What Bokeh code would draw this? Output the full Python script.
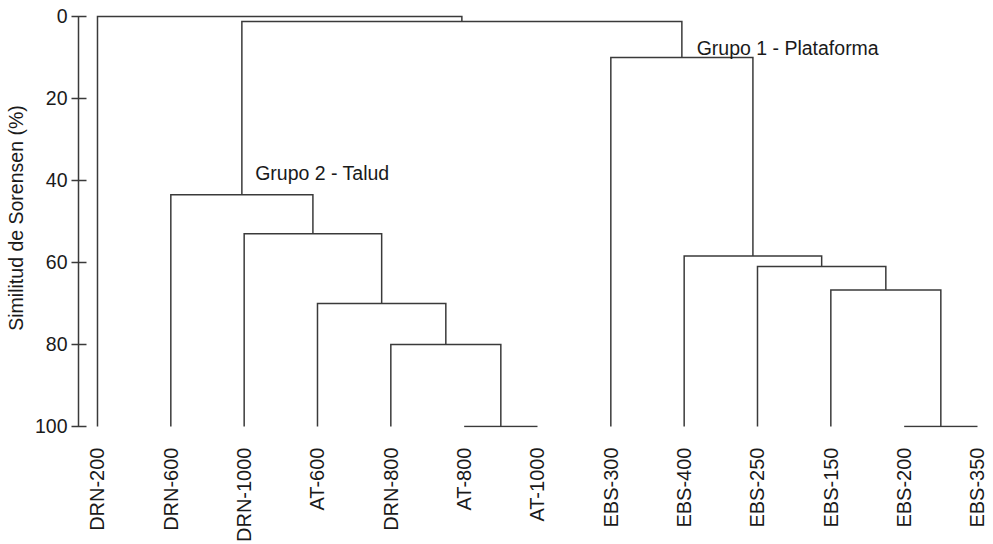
import math
from bokeh.plotting import figure
from bokeh.models import Range1d, FixedTicker, ColumnDataSource
from bokeh.core.properties import value
from bokeh.embed import file_html
from bokeh.resources import INLINE

# ---- data ----
leaves = ["DRN-200", "DRN-600", "DRN-1000", "AT-600", "DRN-800", "AT-800", "AT-1000",
          "EBS-300", "EBS-400", "EBS-250", "EBS-150", "EBS-200", "EBS-350"]
# linkage: node ids 0..12 are leaves, new nodes numbered from 13 in order
merge_left = [5, 4, 3, 2, 1, 11, 10, 9, 8, 7, 17, 0]
merge_right = [6, 13, 14, 15, 16, 12, 18, 19, 20, 21, 22, 23]
merge_height = [100, 80, 70, 53, 43.5, 100, 66.7, 61, 58.4, 10, 1.2, 0]
y_ticks = [0, 20, 40, 60, 80, 100]
group_labels = ["Grupo 2 - Talud", "Grupo 1 - Plataforma"]
group_x = [2.15, 8.17]
group_y = [38.2, 7.8]
leaf_height = 100

# ---- build dendrogram paths ----
pos = {i: float(i) for i in range(len(leaves))}
hgt = {i: float(leaf_height) for i in range(len(leaves))}
xs, ys = [], []
for k, (a, b, h) in enumerate(zip(merge_left, merge_right, merge_height)):
    node = len(leaves) + k
    xs.append([pos[a], pos[a], pos[b], pos[b]])
    ys.append([hgt[a], h, h, hgt[b]])
    pos[node] = (pos[a] + pos[b]) / 2
    hgt[node] = h

FONT = "Liberation Sans"
COL = "#3a3a3a"
TXT = "#1a1a1a"

p = figure(width=993, height=544, output_backend="svg", toolbar_location=None,
           x_range=Range1d(-0.259, 12.15), y_range=Range1d(100.25, -1.95),
           min_border_left=78, min_border_right=5, min_border_top=8, min_border_bottom=116)
p.outline_line_color = None
p.xgrid.visible = False
p.ygrid.visible = False

p.multi_line(xs=xs, ys=ys, line_color=COL, line_width=1.5, line_join="miter")

src = ColumnDataSource(dict(x=group_x, y=group_y, t=group_labels))
p.text(x="x", y="y", text="t", source=src, text_font=value(FONT), text_font_size="19.5px",
       text_color=TXT, text_align="left", text_baseline="alphabetic")

# y axis
ya = p.yaxis[0]
ya.ticker = FixedTicker(ticks=y_ticks)
ya.bounds = (0, 100)
ya.axis_line_color = COL
ya.axis_line_width = 1.5
ya.major_tick_line_color = COL
ya.major_tick_line_width = 1.5
ya.major_tick_in = 8
ya.major_tick_out = 7
ya.minor_tick_line_color = None
ya.major_label_text_font = FONT
ya.major_label_text_font_size = "19.5px"
ya.major_label_text_color = TXT
ya.major_label_standoff = 4
ya.axis_label = "Similitud de Sorensen (%)"
ya.axis_label_text_font = FONT
ya.axis_label_text_font_size = "19.5px"
ya.axis_label_text_font_style = "normal"
ya.axis_label_text_color = TXT
ya.axis_label_standoff = 5

# x axis
xa = p.xaxis[0]
xa.ticker = FixedTicker(ticks=list(range(len(leaves))))
xa.major_label_overrides = {i: n for i, n in enumerate(leaves)}
xa.major_label_orientation = math.pi / 2
xa.axis_line_color = None
xa.major_tick_line_color = None
xa.minor_tick_line_color = None
xa.major_tick_out = 0
xa.major_label_standoff = 20
xa.major_label_text_font = FONT
xa.major_label_text_font_size = "20px"
xa.major_label_text_color = TXT

open("out.html", "w").write(file_html(p, INLINE))
